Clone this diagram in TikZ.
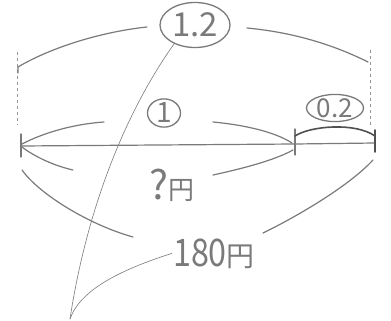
\documentclass[tikz,border=0pt]{standalone}
\usepackage{fontspec}
\newfontfamily\jp{Noto Sans CJK JP}
\usetikzlibrary{shapes.geometric}
\definecolor{pencil}{HTML}{7A7A7A}
\definecolor{pencildark}{HTML}{505050}
\tikzset{
  brace/.style={draw=pencil, line width=1.2pt, line cap=round},
  leader/.style={draw=pencil, line width=0.6pt, line cap=round},
  guide/.style={draw=pencil!80, line width=0.8pt, dash pattern=on 3pt off 3pt},
  circled/.style={ellipse, draw=pencil, line width=1.3pt, inner sep=0pt, text=pencil, font=\jp},
  label/.style={text=pencil, inner sep=1pt, font=\jp},
}
\begin{document}
\begin{tikzpicture}[x=1pt,y=-1pt]
\useasboundingbox (0,0) rectangle (391,321);
% guides
\draw[guide] (17,52) -- (17,125);
\draw[guide] (370,50) -- (370,128);
% main line and ticks
\coordinate (L) at (21,146);
\coordinate (M) at (295,144);
\coordinate (R) at (375,143);
\draw[brace] (L) -- (M) -- (R);
\draw[brace] (21,134) -- (21,157);
\draw[brace] (295,129) -- (295,155);
\draw[brace, draw=pencildark, line width=1.6pt] (375,130) -- (375,152);
% labels
\node[circled, minimum width=70pt, minimum height=45pt] (n12) at (195,25) {\fontsize{33}{33}\selectfont 1.2};
\node[circled, minimum width=33pt, minimum height=28pt] (n1) at (164,113) {\fontsize{28}{28}\selectfont 1};
\node[circled, minimum width=57pt, minimum height=25pt] (n02) at (335,108) {\fontsize{26}{26}\selectfont 0.2};
\node[label, anchor=base] (q) at (172,199) {{\fontsize{40}{40}\selectfont ?}{\fontsize{26}{26}\selectfont 円}};
\node[label, anchor=base] (t180) at (214,266) {\scalebox{0.85}[1]{\fontsize{38}{38}\selectfont 180}{\fontsize{28}{28}\selectfont 円}};
% top brace 1.2
\draw[brace] (18,73) -- (18,67) .. controls (50,48) and (100,32) .. (147,27);
\draw[brace] (247,28) .. controls (300,33) and (340,48) .. (368,62);
% brace 1 (above)
\draw[brace] (22,144) .. controls (45,132) and (75,124) .. (104,122);
\draw[brace] (213,122) .. controls (245,125) and (275,132) .. (292,143);
% brace 0.2
\draw[brace, draw=pencildark, line width=1.6pt] (295,136) .. controls (310,126) and (355,122) .. (375,136);
% brace ? (below)
\draw[brace] (22,147) .. controls (35,157) and (55,166) .. (73,170);
\draw[brace] (213,175) .. controls (245,168) and (275,160) .. (293,150);
% brace 180
\draw[brace] (22,170) .. controls (40,195) and (90,225) .. (133,237);
\draw[brace] (263,233) .. controls (300,215) and (350,185) .. (373,160);
% leaders
\coordinate (tip) at (70,319);
\draw[leader] (n12.222) .. controls (120,120) and (85,220) .. (tip);
\draw[leader] (t180.west) .. controls (120,270) and (80,290) .. (tip);
\end{tikzpicture}
\end{document}
